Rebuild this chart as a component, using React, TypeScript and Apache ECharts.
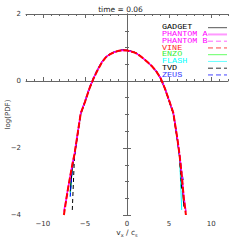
import React, { useEffect, useRef } from 'react';
import * as echarts from 'echarts';

const titleText = 'time = 0.06';
const vx = [-7.5, -7.25, -7, -6.75, -6.5, -6.25, -6, -5.5, -5, -4.5, -4, -3.5, -3, -2.5, -2, -1.5, -1, -0.5, 0, 0.5, 1, 1.5, 2, 2.5, 3, 3.5, 4, 4.5, 5, 5.5, 6, 6.25, 6.5, 6.75, 7];

const gadget = [null, null, null, -3.3, -2.6, -2.25, -1.83, -0.99, -0.64, -0.26, 0.06, 0.33, 0.56, 0.72, 0.81, 0.87, 0.9, 0.93, 0.92, 0.89, 0.85, 0.77, 0.66, 0.55, 0.43, 0.27, 0.07, -0.23, -0.6, -0.98, -1.8, -2.28, -2.95, -3.75, null];
const phantomA = [-3.9, -3.55, -3.18, -2.84, -2.49, -2.19, -1.79, -0.96, -0.62, -0.24, 0.07, 0.33, 0.56, 0.72, 0.8, 0.86, 0.9, 0.92, 0.91, 0.88, 0.84, 0.76, 0.66, 0.55, 0.43, 0.28, 0.08, -0.22, -0.58, -0.95, -1.74, -2.21, -2.78, -3.45, -3.9];
const phantomB = [null, -3.65, -3.22, -2.86, -2.51, -2.21, -1.81, -0.97, -0.63, -0.25, 0.06, 0.32, 0.55, 0.71, 0.8, 0.86, 0.9, 0.92, 0.91, 0.88, 0.84, 0.76, 0.66, 0.55, 0.43, 0.28, 0.08, -0.22, -0.58, -0.96, -1.76, -2.23, -2.82, -3.55, null];
const vine = [-4.0, -3.6, -3.2, -2.85, -2.5, -2.2, -1.8, -0.97, -0.63, -0.25, 0.06, 0.32, 0.55, 0.71, 0.8, 0.86, 0.9, 0.92, 0.91, 0.88, 0.84, 0.76, 0.66, 0.55, 0.43, 0.28, 0.08, -0.22, -0.58, -0.95, -1.75, -2.22, -2.8, -3.5, -4.0];
const enzo = [null, null, null, -3.35, -2.6, -2.23, -1.82, -0.98, -0.63, -0.25, 0.06, 0.33, 0.56, 0.72, 0.8, 0.86, 0.9, 0.92, 0.91, 0.88, 0.84, 0.76, 0.66, 0.55, 0.43, 0.28, 0.08, -0.22, -0.59, -0.97, -1.78, -2.26, -3.2, null, null];
const flash = [null, null, null, -3.45, -2.6, -2.23, -1.82, -0.98, -0.63, -0.25, 0.06, 0.33, 0.56, 0.72, 0.8, 0.86, 0.9, 0.92, 0.91, 0.88, 0.84, 0.76, 0.66, 0.55, 0.43, 0.28, 0.08, -0.22, -0.59, -0.97, -1.78, -2.26, -3.85, null, null];
const tvd = [null, null, null, null, -3.85, -2.3, -1.84, -0.99, -0.64, -0.26, 0.06, 0.33, 0.56, 0.72, 0.81, 0.87, 0.9, 0.93, 0.92, 0.89, 0.85, 0.77, 0.66, 0.55, 0.43, 0.27, 0.07, -0.23, -0.6, -0.98, -1.8, -2.3, -3.3, null, null];
const zeus = [null, null, null, -3.45, -2.62, -2.22, -1.8, -0.95, -0.6, -0.21, 0.1, 0.36, 0.58, 0.73, 0.81, 0.87, 0.9, 0.92, 0.91, 0.88, 0.84, 0.76, 0.66, 0.55, 0.44, 0.3, 0.1, -0.2, -0.56, -0.93, -1.72, -2.18, -2.7, -3.05, null];

const seriesNames = ['GADGET', 'PHANTOM A', 'PHANTOM B', 'VINE', 'ENZO', 'FLASH', 'TVD', 'ZEUS'];
const seriesValues = [gadget, phantomA, phantomB, vine, enzo, flash, tvd, zeus];

const xMajorTicks = [-10, -5, 0, 5, 10];
const xMinorTicks = [-12, -11, -10, -9, -8, -7, -6, -5, -4, -3, -2, -1, 0, 1, 2, 3, 4, 5, 6, 7, 8, 9, 10, 11, 12];

const styles = [
  { color: '#000000', type: 'solid', width: 1, legendColor: '#000000', legendLine: '#555555', legendWidth: 1, z: 3 },
  { color: '#ff00ff', type: 'solid', width: 1.5, legendColor: '#ff00ff', legendLine: '#ff99ff', legendWidth: 2, z: 4 },
  { color: '#ff00ff', type: [4, 2], width: 1, legendColor: '#ff00ff', legendLine: '#ff66ff', legendWidth: 1, z: 4 },
  { color: '#ff0000', type: [6, 2], width: 2, legendColor: '#ff2222', legendLine: '#ff4444', legendWidth: 1, z: 6 },
  { color: '#00ff00', type: 'solid', width: 1, legendColor: '#33ee33', legendLine: '#66ff66', legendWidth: 1, z: 2 },
  { color: '#00ffff', type: 'solid', width: 1, legendColor: '#00ffff', legendLine: '#66ffff', legendWidth: 1, z: 2 },
  { color: '#000000', type: [4, 3], width: 1, legendColor: '#000000', legendLine: '#333333', legendWidth: 1, z: 3 },
  { color: '#0000ff', type: [4, 3], width: 1, legendColor: '#3333ff', legendLine: '#4444ff', legendWidth: 1, z: 3 },
];

const fmt = (v: number) => (v < 0 ? '\u2212' + Math.abs(v) : String(v));

export default function App() {
  const ref = useRef<HTMLDivElement>(null);
  useEffect(() => {
    document.body.style.margin = '0';
    if (!ref.current) return;
    const chart = echarts.init(ref.current, undefined, { renderer: 'svg' });
    const axisColor = '#666666';
    const labelStyle = { fontSize: 7, color: '#333333', fontFamily: 'DejaVu Sans' };
    const baseX = { type: 'value', min: -12, max: 12, splitLine: { show: false } };
    const series = seriesNames.map((name, i) => ({
      name,
      type: 'line',
      xAxisIndex: 0,
      yAxisIndex: 0,
      showSymbol: false,
      symbol: 'none',
      z: styles[i].z,
      lineStyle: { color: styles[i].color, type: styles[i].type, width: styles[i].width },
      data: vx.map((x, k) => [x, seriesValues[i][k]]).filter((p) => p[1] !== null),
    }));
    const legendItems: any[] = [];
    const legendY0 = 27.7;
    const legendDy = 6.75;
    seriesNames.forEach((name, i) => {
      const y = legendY0 + i * legendDy;
      legendItems.push({
        type: 'text',
        x: 162,
        y: y,
        scaleX: 1.3,
        style: { text: name, fill: styles[i].legendColor, fontSize: 6.5, fontFamily: 'Liberation Mono', verticalAlign: 'middle' },
      });
      legendItems.push({
        type: 'line',
        shape: { x1: 208, y1: y, x2: 227, y2: y },
        style: { stroke: styles[i].legendLine, lineWidth: styles[i].legendWidth, lineDash: styles[i].type === 'solid' ? null : [5, 3] },
      });
    });
    chart.setOption({
      animation: false,
      title: {
        text: titleText,
        left: 'center',
        top: 0,
        textStyle: { fontSize: 7.5, fontWeight: 'normal', color: '#222222', fontFamily: 'DejaVu Sans' },
      },
      grid: { left: 26, right: 13, top: 14, bottom: 26, containLabel: false, outerBoundsMode: 'none' },
      xAxis: [
        {
          ...baseX,
          position: 'bottom',
          axisLine: { show: true, lineStyle: { color: axisColor } },
          axisTick: { show: true, inside: true, length: 4, customValues: xMajorTicks, lineStyle: { color: axisColor } },
          axisLabel: { ...labelStyle, margin: 5, customValues: xMajorTicks, formatter: fmt },
          name: '{a|v}{s|x}{a| / c}{s|s}',
          nameLocation: 'middle',
          nameGap: 13,
          nameMoveOverlap: false,
          nameTextStyle: {
            rich: {
              a: { fontSize: 7.5, color: '#333333', fontFamily: 'DejaVu Sans' },
              s: { fontSize: 5, color: '#333333', fontFamily: 'DejaVu Sans', verticalAlign: 'bottom', padding: [4, 0, 0, 0] },
            },
          },
        },
        {
          ...baseX,
          position: 'bottom',
          axisLine: { show: false },
          axisTick: { show: true, inside: true, length: 2, customValues: xMinorTicks, lineStyle: { color: axisColor } },
          axisLabel: { show: false },
        },
        {
          ...baseX,
          position: 'top',
          axisLine: { show: true, lineStyle: { color: axisColor } },
          axisTick: { show: true, inside: true, length: 4, customValues: xMajorTicks, lineStyle: { color: axisColor } },
          axisLabel: { show: false },
        },
        {
          ...baseX,
          position: 'top',
          axisLine: { show: false },
          axisTick: { show: true, inside: true, length: 2, customValues: xMinorTicks, lineStyle: { color: axisColor } },
          axisLabel: { show: false },
        },
      ],
      yAxis: [
        {
          type: 'value',
          position: 'left',
          min: -4,
          max: 2,
          interval: 2,
          splitLine: { show: false },
          axisLine: { show: true, lineStyle: { color: axisColor } },
          axisTick: { show: true, inside: true, length: 4, lineStyle: { color: axisColor } },
          minorTick: { show: true, splitNumber: 4, length: 2, lineStyle: { color: axisColor } },
          axisLabel: { ...labelStyle, margin: 5, formatter: fmt },
          name: 'log(PDF)',
          nameLocation: 'middle',
          nameGap: 15,
          nameMoveOverlap: false,
          nameTextStyle: { fontSize: 7, color: '#333333', fontFamily: 'DejaVu Sans' },
        },
        {
          type: 'value',
          position: 'right',
          min: -4,
          max: 2,
          interval: 2,
          splitLine: { show: false },
          axisLine: { show: true, lineStyle: { color: axisColor } },
          axisTick: { show: true, inside: true, length: 4, lineStyle: { color: axisColor } },
          minorTick: { show: true, splitNumber: 4, length: 2, lineStyle: { color: axisColor } },
          axisLabel: { show: false },
        },
      ],
      graphic: legendItems,
      series,
    });
    return () => chart.dispose();
  }, []);
  return <div ref={ref} style={{ width: 241, height: 241, background: '#ffffff' }} />;
}
